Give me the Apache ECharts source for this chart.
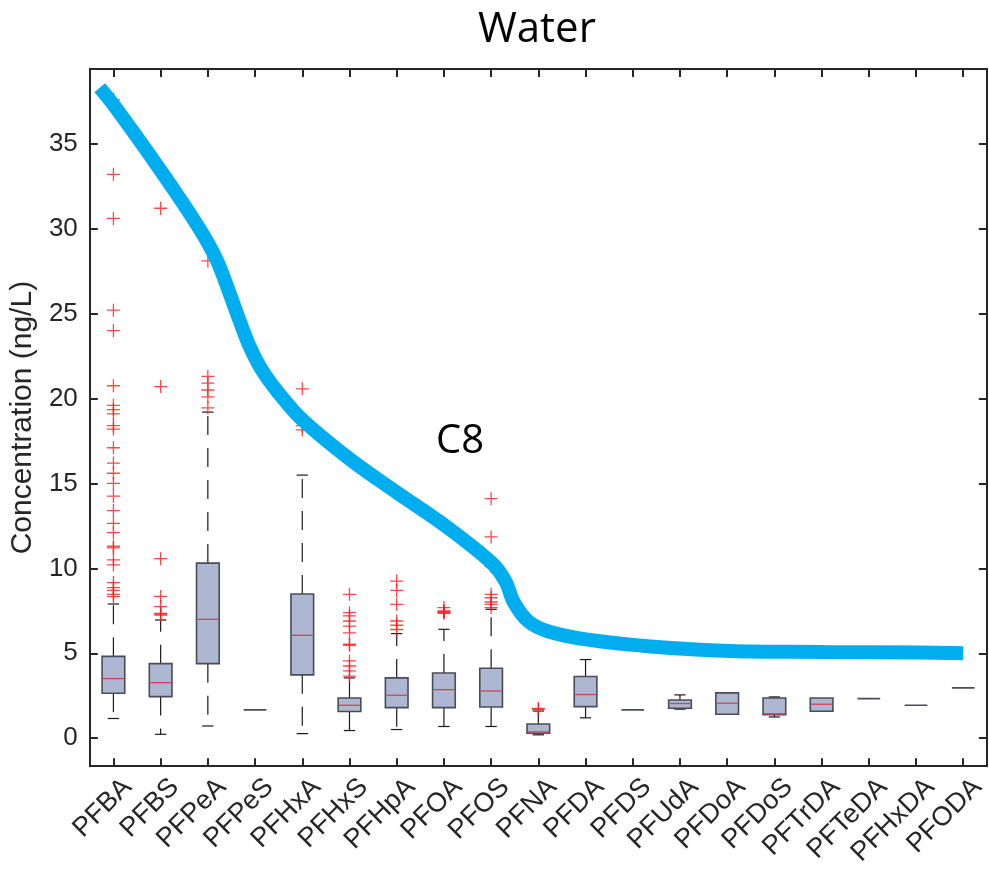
<!DOCTYPE html>
<html>
<head>
<meta charset="utf-8">
<title>Water</title>
<script src="https://cdn.jsdelivr.net/npm/echarts@6/dist/echarts.min.js"></script>
<style>
html, body { margin: 0; padding: 0; background: #fff; }
#chart { width: 989px; height: 869px; }
</style>
</head>
<body>
<div id="chart"></div>
<script>
// compounds on the x axis
var categories = ['PFBA', 'PFBS', 'PFPeA', 'PFPeS', 'PFHxA', 'PFHxS', 'PFHpA', 'PFOA', 'PFOS', 'PFNA',
    'PFDA', 'PFDS', 'PFUdA', 'PFDoA', 'PFDoS', 'PFTrDA', 'PFTeDA', 'PFHxDA', 'PFODA'];

// [lower whisker, q1, median, q3, upper whisker]
var boxStats = [
    [1.16, 2.65, 3.51, 4.82, 7.9],
    [0.23, 2.45, 3.27, 4.39, 6.96],
    [0.72, 4.39, 7.0, 10.31, 19.2],
    [1.67, 1.67, 1.67, 1.67, 1.67],
    [0.27, 3.73, 6.06, 8.49, 15.49],
    [0.45, 1.57, 1.94, 2.37, 3.55],
    [0.51, 1.8, 2.53, 3.55, 6.16],
    [0.69, 1.8, 2.86, 3.84, 6.41],
    [0.69, 1.84, 2.78, 4.12, 7.59],
    [0.2, 0.29, 0.37, 0.84, 1.6],
    [1.2, 1.86, 2.57, 3.63, 4.63],
    [1.67, 1.67, 1.67, 1.67, 1.67],
    [1.71, 1.76, 2.04, 2.25, 2.55],
    [1.41, 1.41, 2.06, 2.67, 2.67],
    [1.25, 1.39, 1.43, 2.37, 2.43],
    [1.59, 1.59, 2.0, 2.37, 2.37],
    [2.33, 2.33, 2.33, 2.33, 2.33],
    [1.94, 1.94, 1.94, 1.94, 1.94],
    [2.96, 2.96, 2.96, 2.96, 2.96]
];

// outliers per compound
var outliers = [
    [37.6, 33.2, 30.6, 25.2, 24.0, 20.75, 19.6, 19.35, 19.1, 18.4, 18.2, 17.1, 16.2, 15.6, 15.0, 14.25,
        13.4, 12.65, 12.1, 11.3, 11.2, 10.5, 10.2, 9.16, 8.86, 8.7, 8.47, 8.33],
    [31.2, 20.7, 10.57, 8.35, 7.75, 7.35, 7.3, 7.25],
    [28.1, 21.3, 20.9, 20.5, 20.1, 19.45],
    [],
    [20.57, 18.4, 18.15],
    [8.47, 7.39, 7.2, 6.9, 6.6, 6.2, 5.53, 5.47, 4.55, 4.25, 3.96, 3.65],
    [9.25, 8.7, 7.88, 6.9, 6.65, 6.4],
    [12.5, 7.69, 7.5, 7.45, 7.4, 7.35],
    [14.1, 11.85, 10.1, 8.47, 8.27, 8.02, 7.88, 7.69],
    [1.75, 1.7],
    [], [], [], [], [], [], [], [], []
];

// hand drawn trend line, x in category units
var trendX = [-0.29, 0, 0.98, 1.8, 2.18, 2.46, 2.67, 2.88, 3.14, 3.49, 3.98, 5.02, 6.01, 7.03,
    8.02, 8.31, 8.48, 8.78, 9.2, 10.05, 11.38, 13.05, 15.06, 17.07, 18.0];
var trendY = [38.3, 37.3, 33.5, 30.1, 28.2, 26.2, 24.6, 23.1, 21.7, 20.35, 18.8, 16.4, 14.45, 12.5,
    10.3, 9.2, 8.0, 6.9, 6.3, 5.8, 5.4, 5.14, 5.08, 5.04, 5.0];

var yTicks = [0, 5, 10, 15, 20, 25, 30, 35];

var axisColor = '#262626';
var plusPath = 'path://M0,4.5H10V5.5H0Z M4.5,0H5.5V10H4.5Z';

var boxData = boxStats.map(function (s, i) { return [i].concat(s); });
var outlierData = [];
outliers.forEach(function (list, i) {
    list.forEach(function (v) { outlierData.push([i, v]); });
});
var trendData = trendX.map(function (x, i) { return [x, trendY[i]]; });

function renderBox(params, api) {
    var i = api.value(0);
    var lo = api.coord([i, api.value(1)]);
    var q1 = api.coord([i, api.value(2)]);
    var md = api.coord([i, api.value(3)]);
    var q3 = api.coord([i, api.value(4)]);
    var hi = api.coord([i, api.value(5)]);
    var bw = api.size([1, 0])[0] * 0.48;
    var cw = bw * 0.5;
    var x = lo[0];
    var kids = [];
    var dash = { stroke: '#1a1a1a', lineWidth: 1.2, lineDash: [19, 13] };
    var solid = { stroke: '#1a1a1a', lineWidth: 1.2 };
    if (hi[1] < q3[1]) {
        kids.push({ type: 'line', shape: { x1: x, y1: q3[1], x2: x, y2: hi[1] }, style: dash });
        kids.push({ type: 'line', shape: { x1: x - cw / 2, y1: hi[1], x2: x + cw / 2, y2: hi[1] }, style: solid });
    }
    if (lo[1] > q1[1]) {
        kids.push({ type: 'line', shape: { x1: x, y1: q1[1], x2: x, y2: lo[1] }, style: dash });
        kids.push({ type: 'line', shape: { x1: x - cw / 2, y1: lo[1], x2: x + cw / 2, y2: lo[1] }, style: solid });
    }
    kids.push({
        type: 'rect',
        shape: { x: x - bw / 2, y: q3[1], width: bw, height: q1[1] - q3[1] },
        style: { fill: '#aeb7d2', stroke: '#4a4d57', lineWidth: 1.6 }
    });
    if (q1[1] - q3[1] > 0.5) {
        kids.push({
            type: 'line',
            shape: { x1: x - bw / 2 + 1, y1: md[1], x2: x + bw / 2 - 1, y2: md[1] },
            style: { stroke: '#d3405e', lineWidth: 1.3 }
        });
    }
    return { type: 'group', children: kids };
}

var chart = echarts.init(document.getElementById('chart'));
chart.setOption({
    animation: false,
    grid: { left: 88, right: 2, top: 69, bottom: 102, containLabel: false },
    graphic: [
        {
            type: 'text', left: 478, top: 9, z: 10,
            style: { text: 'Water', font: '42px "Open Sans"', fill: '#000' }
        },
        {
            type: 'text', left: 436, top: 422, z: 10,
            style: { text: 'C8', font: '40px "Open Sans"', fill: '#000' }
        }
    ],
    xAxis: [
        {
            type: 'category',
            data: categories,
            position: 'bottom',
            boundaryGap: true,
            axisLine: { onZero: false, lineStyle: { color: axisColor, width: 2 } },
            axisTick: { show: true, inside: true, alignWithLabel: true, interval: 0, length: 8, lineStyle: { color: axisColor, width: 2 } },
            axisLabel: {
                rotate: 45, margin: 31, fontSize: 27, color: axisColor,
                fontFamily: 'Liberation Sans', verticalAlign: 'middle', interval: 0,
                padding: [0, -20, 0, 0]
            },
            splitLine: { show: false }
        },
        {
            type: 'category',
            data: categories,
            position: 'top',
            boundaryGap: true,
            axisLine: { onZero: false, lineStyle: { color: axisColor, width: 2 } },
            axisTick: { show: true, inside: true, alignWithLabel: true, interval: 0, length: 8, lineStyle: { color: axisColor, width: 2 } },
            axisLabel: { show: false },
            splitLine: { show: false }
        },
        {
            type: 'value',
            min: -0.5,
            max: 18.5,
            show: false,
            axisLine: { onZero: false }
        }
    ],
    yAxis: [
        {
            type: 'value',
            min: -1.65,
            max: 39.4,
            position: 'left',
            name: 'Concentration (ng/L)',
            nameLocation: 'middle',
            nameGap: 49,
            nameTextStyle: { fontSize: 30, color: axisColor, fontFamily: 'Liberation Sans' },
            axisLine: { show: true, onZero: false, lineStyle: { color: axisColor, width: 2 } },
            axisTick: { show: true, inside: true, length: 8, customValues: yTicks, lineStyle: { color: axisColor, width: 2 } },
            axisLabel: { customValues: yTicks, fontSize: 26, color: axisColor, fontFamily: 'Liberation Sans', margin: 12 },
            splitLine: { show: false }
        },
        {
            type: 'value',
            min: -1.65,
            max: 39.4,
            position: 'right',
            axisLine: { show: true, onZero: false, lineStyle: { color: axisColor, width: 2 } },
            axisTick: { show: true, inside: true, length: 8, customValues: yTicks, lineStyle: { color: axisColor, width: 2 } },
            axisLabel: { show: false },
            splitLine: { show: false }
        }
    ],
    series: [
        {
            type: 'custom',
            xAxisIndex: 0,
            yAxisIndex: 0,
            renderItem: renderBox,
            encode: { x: 0, y: [1, 2, 3, 4, 5] },
            data: boxData,
            silent: true
        },
        {
            type: 'scatter',
            xAxisIndex: 0,
            yAxisIndex: 0,
            symbol: plusPath,
            symbolSize: 13,
            itemStyle: { color: '#ff1a1a' },
            data: outlierData,
            silent: true
        },
        {
            type: 'line',
            xAxisIndex: 2,
            yAxisIndex: 0,
            data: trendData,
            smooth: 0.35,
            showSymbol: false,
            lineStyle: { color: '#00aeef', width: 14 },
            silent: true,
            z: 5
        }
    ]
});
</script>
</body>
</html>
